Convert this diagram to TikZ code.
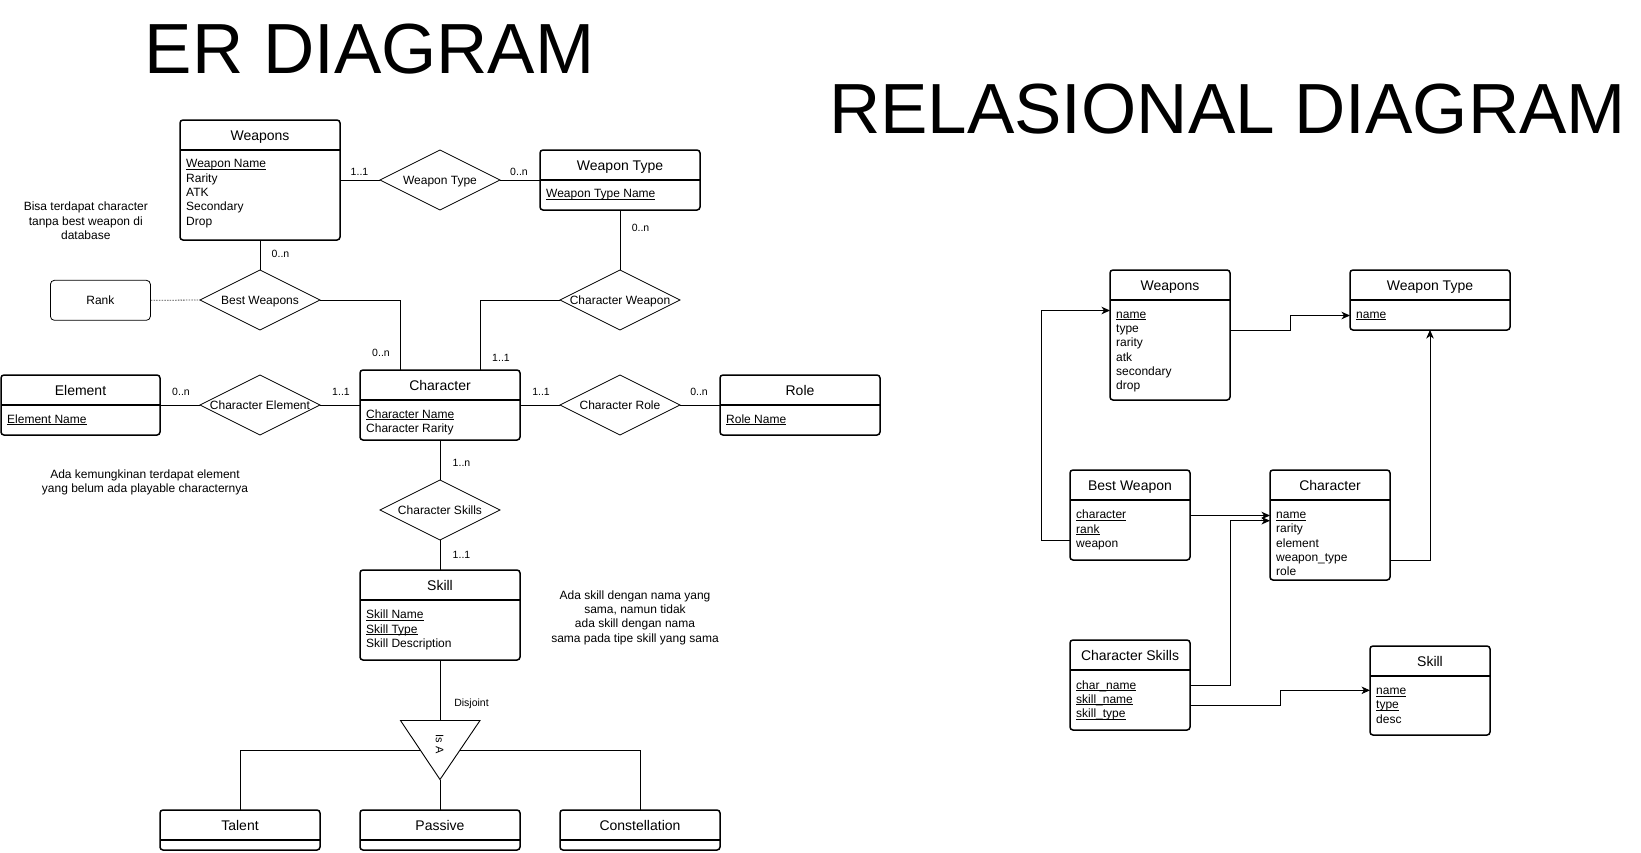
\documentclass[tikz,border=0pt]{standalone}
\usepackage{fontspec}
\setmainfont{Liberation Sans}
\usetikzlibrary{shapes.geometric,arrows.meta,calc}
\newsavebox{\ulbox}
\newcommand{\myul}[1]{\sbox{\ulbox}{#1}\rlap{\rule[-1.8pt]{\wd\ulbox}{0.75pt}}\usebox{\ulbox}}
\tikzset{
  entbox/.style={draw, line width=1.5pt, rounded corners=3pt, inner sep=0pt, outer sep=0pt},
  hdr/.style={line width=1.5pt},
  ttl/.style={font=\fontsize{14}{16}\selectfont, inner sep=0pt, text height=10pt, text depth=0pt},
  attr/.style={font=\fontsize{12}{14.3}\selectfont, inner sep=0pt, align=left, anchor=north west},
  card/.style={font=\fontsize{10.5}{12}\selectfont, inner sep=0pt, text height=7.5pt, text depth=0pt},
  note/.style={font=\fontsize{12}{14.4}\selectfont, inner sep=0pt, align=center, anchor=north},
  relsh/.style={draw, diamond, aspect=2, line width=0.8pt, minimum width=120pt, minimum height=60pt, inner sep=0pt, outer sep=0pt},
  rtext/.style={font=\fontsize{12}{14}\selectfont, inner sep=0pt, text height=8.6pt, text depth=0pt},
  conn/.style={line width=0.9pt},
  dots/.style={line width=0.8pt, black!70, dash pattern=on 1.5pt off 1.2pt},
  rankbox/.style={draw, line width=0.8pt, rounded corners=4pt, minimum width=100pt, minimum height=40pt, inner sep=0pt, font=\fontsize{12}{14}\selectfont, text height=8.6pt, text depth=0pt},
  arr/.style={line width=0.9pt, -{Stealth[length=8.5pt,width=7.5pt,inset=2.5pt]}},
  bigttl/.style={font=\fontsize{71}{80}\selectfont, inner sep=0pt, anchor=base}
}
\newcommand{\ent}[6]{%
  \node[entbox, anchor=north west, minimum width=#4pt, minimum height=#5pt] (#1) at (#2,#3) {};
  \draw[hdr] ([yshift=-30pt]#1.north west) -- ([yshift=-30pt]#1.north east);
  \node[ttl] (#1-t) at ([yshift=-15pt]#1.north) {#6};
}
\newcommand{\attrs}[3]{%
  \node[attr] (#1-a) at ([xshift=6pt,yshift=-#2pt]#1.north west) {\vphantom{A}#3};
}
\begin{document}
\begin{tikzpicture}[x=1pt,y=-1pt]
\fill[white] (0,0) rectangle (1641,852);
\useasboundingbox (0,0) rectangle (1641,852);

% titles
\node[bigttl] (ertitle) at (369.7,73.3) {ER DIAGRAM};
\node[bigttl] (reltitle) at (1227.5,133.5) {RELASIONAL DIAGRAM};

% ===== ER diagram =====
\ent{weapons}{180}{120}{160}{120}{Weapons}
\attrs{weapons}{39.5}{\myul{Weapon Name}\\Rarity\\ATK\\Secondary\\Drop}
\ent{wtype}{540}{150}{160}{60}{Weapon Type}
\attrs{wtype}{39.5}{\myul{Weapon Type Name}}
\ent{character}{360}{370}{160}{70}{Character}
\attrs{character}{39.5}{\myul{Character Name}\\Character Rarity}
\ent{element}{1}{375}{159}{60}{Element}
\attrs{element}{39.5}{\myul{Element Name}}
\ent{role}{720}{375}{160}{60}{Role}
\attrs{role}{39.5}{\myul{Role Name}}
\ent{skill}{360}{570}{160}{90}{Skill}
\attrs{skill}{39.8}{\myul{Skill Name}\\\myul{Skill Type}\\Skill Description}
\ent{talent}{160}{810}{160}{40}{Talent}
\ent{passive}{360}{810}{160}{40}{Passive}
\ent{constel}{560}{810}{160}{40}{Constellation}

\node[rankbox] (rank) at (100.4,300.3) {Rank};

\node[relsh, label={[rtext]center:Weapon Type}] (wtr) at (440,180) {};
\node[relsh, label={[rtext]center:Best Weapons}] (bwr) at (260,300) {};
\node[relsh, label={[rtext]center:Character Weapon}] (cwr) at (620,300) {};
\node[relsh, label={[rtext]center:Character Element}] (cer) at (260,405) {};
\node[relsh, label={[rtext]center:Character Role}] (crr) at (620,405) {};
\node[relsh, label={[rtext]center:Character Skills}] (csr) at (440,510) {};

% connectors
\draw[conn] (weapons.east) -- (wtr.west);
\draw[conn] (wtr.east) -- (wtype.west);
\draw[conn] (weapons.south) -- (bwr.north);
\draw[dots] (rank.east) -- (bwr.west);
\draw[conn] (bwr.east) -| ([xshift=40pt]character.north west);
\draw[conn] (cwr.west) -| ([xshift=120pt]character.north west);
\draw[conn] (wtype.south) -- (cwr.north);
\draw[conn] (element.east) -- (cer.west);
\draw[conn] (cer.east) -- (character.west);
\draw[conn] (character.east) -- (crr.west);
\draw[conn] (crr.east) -- (role.west);
\draw[conn] (character.south) -- (csr.north);
\draw[conn] (csr.south) -- (skill.north);

% ISA triangle
\coordinate (tl) at (400.5,720.5);
\coordinate (tr) at (480,720.5);
\coordinate (tb) at (440,779.5);
\coordinate (isatop) at (440,720.5);
\coordinate (tls) at (420.5,750.5);
\coordinate (trs) at (460,750.5);
\draw[conn] (skill.south) -- (isatop);
\draw[conn, line join=miter] (tl) -- (tr) -- (tb) -- cycle;
\draw[conn] (tls) -| (talent.north);
\draw[conn] (trs) -| (constel.north);
\draw[conn] (tb) -- (passive.north);
\node[card, rotate=-90, font=\fontsize{11}{12}\selectfont] (isa) at (439.5,744) {Is A};
\node[card] (disj) at (471.5,702.7) {Disjoint};

% cardinalities
\node[card] (c1) at (359.5,171.5) {1..1};
\node[card] (c2) at (519,171.5) {0..n};
\node[card] (c3) at (280.5,254) {0..n};
\node[card] (c4) at (381,353) {0..n};
\node[card] (c5) at (501,357.5) {1..1};
\node[card] (c6) at (640.5,227.5) {0..n};
\node[card] (c7) at (181,391.5) {0..n};
\node[card] (c8) at (341,391.5) {1..1};
\node[card] (c9) at (541,391.5) {1..1};
\node[card] (c10) at (699,391.5) {0..n};
\node[card] (c11) at (461.5,463) {1..n};
\node[card] (c12) at (461.5,554.3) {1..1};

% notes
\node[note] (n1) at (85.8,201.8) {\vphantom{A}Bisa terdapat character\\tanpa best weapon di\\database};
\node[note] (n2) at (145,469.3) {\vphantom{A}Ada kemungkinan terdapat element\\yang belum ada playable characternya};
\node[note] (n3) at (635,590.2) {\vphantom{A}Ada skill dengan nama yang\\sama, namun tidak\\ada skill dengan nama\\sama pada tipe skill yang sama};

% ===== Relational diagram =====
\ent{rweapons}{1110}{270}{120}{130}{Weapons}
\attrs{rweapons}{39.8}{\myul{name}\\type\\rarity\\atk\\secondary\\drop}
\ent{rwtype}{1350}{270}{160}{60}{Weapon Type}
\attrs{rwtype}{39.8}{\myul{name}}
\ent{rbest}{1070}{470}{120}{90}{Best Weapon}
\attrs{rbest}{40}{\myul{character}\\\myul{rank}\\weapon}
\ent{rchar}{1270}{470}{120}{110}{Character}
\attrs{rchar}{40}{\myul{name}\\rarity\\element\\weapon\_type\\role}
\ent{rcs}{1070}{640}{120}{90}{Character Skills}
\attrs{rcs}{40.2}{\myul{char\_name}\\\myul{skill\_name}\\\myul{skill\_type}}
\ent{rskill}{1370}{646}{120}{89}{Skill}
\attrs{rskill}{40}{\myul{name}\\\myul{type}\\desc}

\draw[arr] ([yshift=-60pt]rweapons.north east) -- ++(60,0) |- ([yshift=-45.5pt]rwtype.north west);
\draw[arr] ([yshift=-90pt]rchar.north east) -| (rwtype.south);
\draw[arr] ([yshift=-70pt]rbest.north west) -- ++(-29,0) |- ([yshift=-40.5pt]rweapons.north west);
\draw[arr] ([yshift=-45.5pt]rbest.north east) -- ([yshift=-45.5pt]rchar.north west);
\draw[arr] ([yshift=-45.3pt]rcs.north east) -- ++(40,0) |- ([yshift=-50.7pt]rchar.north west);
\draw[arr] ([yshift=-65pt]rcs.north east) -- ++(90,0) |- ([yshift=-44.3pt]rskill.north west);
\end{tikzpicture}
\end{document}
